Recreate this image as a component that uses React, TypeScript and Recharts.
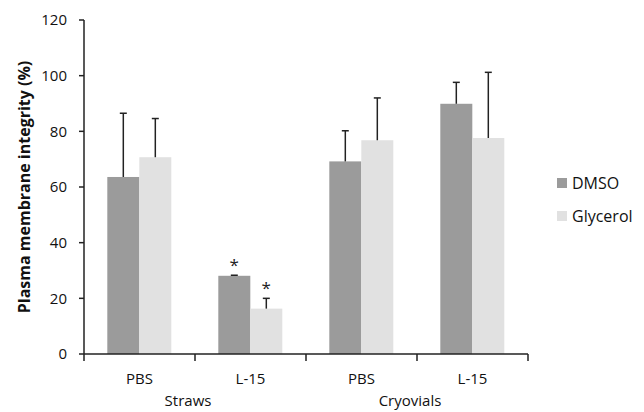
import { BarChart, Bar, XAxis, YAxis, Legend } from 'recharts';

const categories = ['PBS', 'L-15', 'PBS', 'L-15'];
const groupLabels = ['Straws', 'Cryovials'];
const dmso = [63.6, 28.1, 69.2, 89.9];
const dmsoErr = [22.9, 0.2, 11.0, 7.7];
const glycerol = [70.7, 16.3, 76.8, 77.6];
const glycerolErr = [13.9, 3.7, 15.2, 23.6];
const dmsoSig = [false, true, false, false];
const glycerolSig = [false, true, false, false];
const yTicks = [0, 20, 40, 60, 80, 100, 120];

const data = categories.map((name, i) => ({
    name,
    dmso: dmso[i],
    dmsoErr: dmsoErr[i],
    dmsoSig: dmsoSig[i],
    glycerol: glycerol[i],
    glycerolErr: glycerolErr[i],
    glycerolSig: glycerolSig[i],
}));

const FONT = '"Open Sans", sans-serif';
const INK = '#222';

// bar + upper error bar + optional asterisk
const makeShape = (errKey: string, sigKey: string) => (props: any) => {
    const { x, y, width, height, fill, payload, value } = props;
    const v = Array.isArray(value) ? value[1] - value[0] : value;
    const perUnit = v ? height / v : 0;
    const top = y - payload[errKey] * perUnit;
    const cx = x + width / 2;
    return (
        <g>
            <rect x={x} y={y} width={width} height={height} fill={fill} />
            <line x1={cx} x2={cx} y1={y} y2={top} stroke={INK} strokeWidth={1.5} />
            <line x1={cx - 3.5} x2={cx + 3.5} y1={top} y2={top} stroke={INK} strokeWidth={1.5} />
            {payload[sigKey] && (
                <text x={cx} y={top - 4} textAnchor="middle" fontSize={17} fontFamily={FONT} fill={INK}>*</text>
            )}
        </g>
    );
};

// category label, boundary tick marks and group label under every other category
const CategoryTick = (props: any) => {
    const { x, y, payload } = props;
    const half = Number(payload.offset) || 0;
    const i = payload.index;
    const cx = Number(x);
    const cy = Number(y);
    const left = cx - half;
    const right = cx + half;
    return (
        <g>
            <rect x={left - 0.75} y={cy - 2} width={1.5} height={7} fill={INK} />
            {i === categories.length - 1 && (
                <rect x={right - 0.75} y={cy - 2} width={1.5} height={7} fill={INK} />
            )}
            <text x={cx} y={cy + 24} textAnchor="middle" dominantBaseline="middle" fontSize={15} fontFamily={FONT} fill="#111">
                {payload.value}
            </text>
            {i % 2 === 1 && (
                <text x={left - 7} y={cy + 46} textAnchor="middle" dominantBaseline="middle" fontSize={15} fontFamily={FONT} fill="#111">
                    {groupLabels[(i - 1) / 2]}
                </text>
            )}
        </g>
    );
};

const LegendContent = ({ payload }: any) => (
    <div style={{ fontFamily: FONT, fontSize: 16, color: '#111' }}>
        {payload.map((p: any) => (
            <div key={p.value} style={{ display: 'flex', alignItems: 'center', height: 33 }}>
                <span style={{ width: 10, height: 10, background: p.color, marginRight: 5, display: 'inline-block' }} />
                {p.value}
            </div>
        ))}
    </div>
);

export default function App() {
    return (
        <div style={{ position: 'fixed', left: 0, top: 0, width: 644, height: 412, background: '#fff' }}>
            <BarChart
                width={644}
                height={412}
                data={data}
                margin={{ top: 20, right: 116, left: 0, bottom: 0 }}
                barCategoryGap="21%"
                barGap={0}
            >
                <XAxis
                    dataKey="name"
                    height={58}
                    tickLine={false}
                    tickSize={0}
                    interval={0}
                    axisLine={{ stroke: INK, strokeWidth: 1.5 }}
                    tick={<CategoryTick />}
                />
                <YAxis
                    width={84}
                    domain={[0, 120]}
                    ticks={yTicks}
                    interval={0}
                    tickSize={5}
                    tickMargin={12}
                    axisLine={{ stroke: INK, strokeWidth: 1.5 }}
                    tickLine={{ stroke: INK, strokeWidth: 1.5 }}
                    tick={{ fill: '#111', fontSize: 15, fontFamily: FONT }}
                    label={{
                        value: 'Plasma membrane  integrity  (%)',
                        angle: -90,
                        position: 'insideLeft',
                        offset: 24,
                        style: { textAnchor: 'middle', fontFamily: FONT, fontSize: 16, fontWeight: 700, fill: '#111', whiteSpace: 'pre' },
                    }}
                />
                <Legend
                    layout="vertical"
                    align="center"
                    verticalAlign="middle"
                    content={LegendContent}
                    wrapperStyle={{ left: 557, top: 166, width: 'auto' }}
                />
                <Bar dataKey="dmso" name="DMSO" fill="#9b9b9b" isAnimationActive={false} shape={makeShape('dmsoErr', 'dmsoSig')} />
                <Bar dataKey="glycerol" name="Glycerol" fill="#e1e1e1" isAnimationActive={false} shape={makeShape('glycerolErr', 'glycerolSig')} />
            </BarChart>
        </div>
    );
}
